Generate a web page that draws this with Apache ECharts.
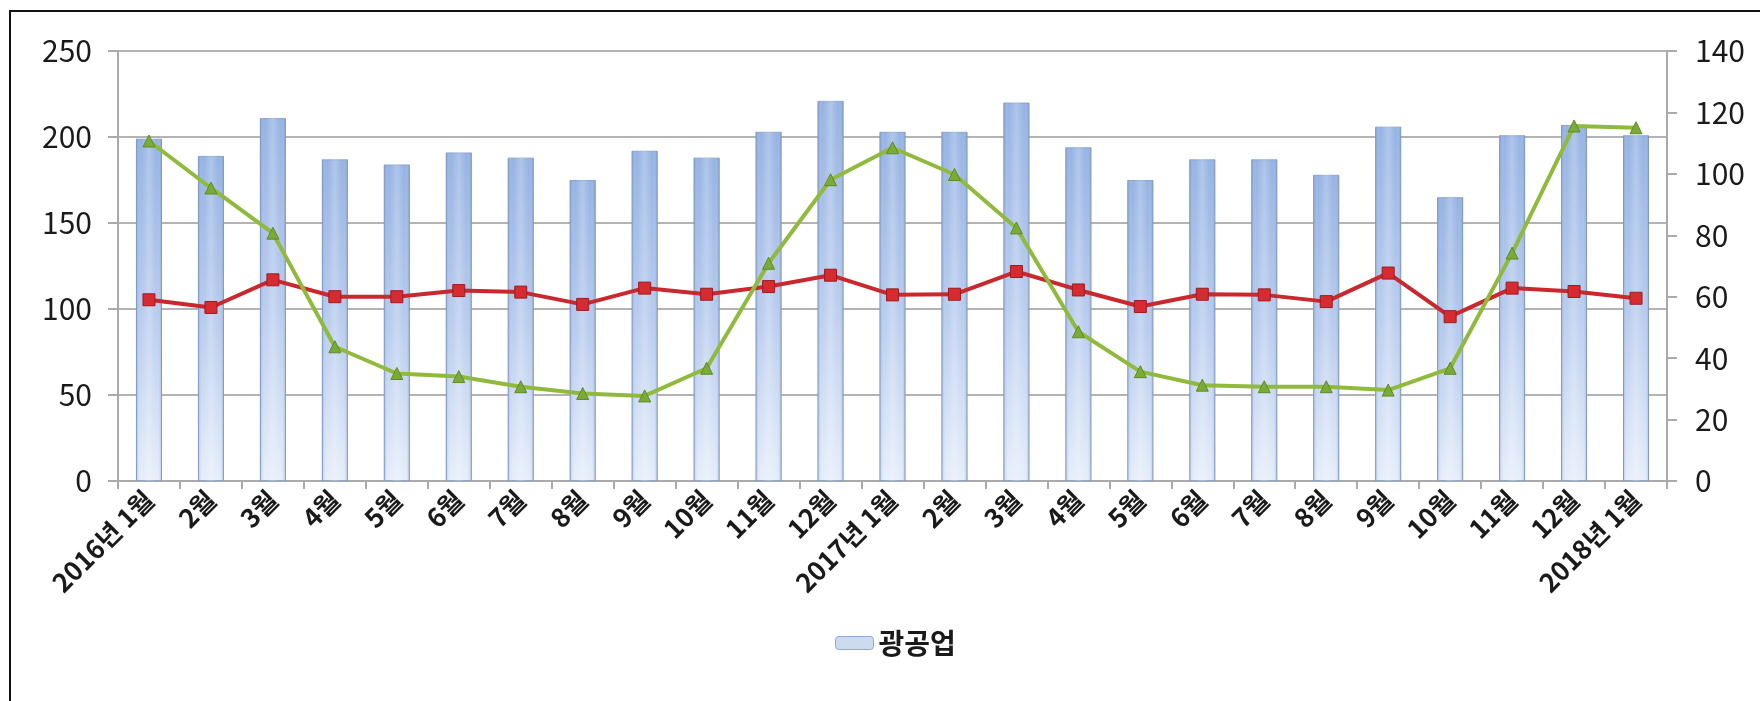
<!DOCTYPE html>
<html>
<head>
<meta charset="utf-8">
<script src="https://cdn.jsdelivr.net/npm/echarts@6/dist/echarts.min.js"></script>
<style>
html,body{margin:0;padding:0;background:#fff;}
#chart{width:1760px;height:701px;}
</style>
</head>
<body>
<div id="chart"></div>
<script>
const categories = ['2016년 1월','2월','3월','4월','5월','6월','7월','8월','9월','10월','11월','12월',
  '2017년 1월','2월','3월','4월','5월','6월','7월','8월','9월','10월','11월','12월','2018년 1월'];
const barValues = [199,189,211,187,184,191,188,175,192,188,203,221,203,203,220,194,175,187,187,178,206,165,201,207,201];
const redValues = [59,56.5,65.5,60,60,62,61.5,57.5,62.8,60.8,63.3,67,60.6,60.8,68.2,62.2,56.8,60.8,60.6,58.4,67.7,53.5,62.8,61.7,59.5];
const greenValues = [110.7,95.4,80.7,43.7,35,34,30.7,28.5,27.7,36.7,70.9,98.1,108.5,99.8,82.4,48.6,35.6,31.2,30.7,30.7,29.6,36.7,74.2,115.6,115];
const leftTicks = {min:0, max:250, interval:50};
const rightTicks = {min:0, max:140, interval:20};
const barName = '광공업';

const font = '"Noto Sans CJK KR", "Noto Sans", sans-serif';
const chart = echarts.init(document.getElementById('chart'), null, {renderer:'canvas'});
chart.setOption({
  animation:false,
  backgroundColor:'#fff',
  graphic:[{type:'rect', shape:{x:10, y:11, width:1800, height:800},
    style:{fill:'none', stroke:'#111', lineWidth:2}, z:100}],
  grid:{left:118, right:93, top:51, bottom:220},
  legend:{
    data:[barName], left:830, top:624,
    itemWidth:38, itemHeight:13, itemGap:6,
    textStyle:{fontFamily:font, fontSize:28, fontWeight:'bold', color:'#1a1a1a'},
    itemStyle:{color:'#cddbf1', borderColor:'#8ea9d2', borderWidth:1}
  },
  xAxis:{
    type:'category', data:categories, boundaryGap:true,
    axisLine:{lineStyle:{color:'#aaaaaa', width:2}},
    axisTick:{show:true, length:8, lineStyle:{color:'#aaaaaa', width:2}},
    axisLabel:{rotate:45, interval:0, margin:14, fontFamily:font, fontSize:26, fontWeight:'bold', color:'#1a1a1a'}
  },
  yAxis:[{
    type:'value', min:leftTicks.min, max:leftTicks.max, interval:leftTicks.interval, position:'left',
    axisLine:{show:true, lineStyle:{color:'#aaaaaa', width:2}},
    axisTick:{show:true, length:10, lineStyle:{color:'#aaaaaa', width:2}},
    splitLine:{show:true, lineStyle:{color:'#b3b3b3', width:2}},
    axisLabel:{margin:26, fontFamily:font, fontSize:30, color:'#1a1a1a'}
  },{
    type:'value', min:rightTicks.min, max:rightTicks.max, interval:rightTicks.interval, position:'right',
    axisLine:{show:true, lineStyle:{color:'#aaaaaa', width:2}},
    axisTick:{show:true, length:10, lineStyle:{color:'#aaaaaa', width:2}},
    splitLine:{show:false},
    axisLabel:{margin:28, fontFamily:font, fontSize:30, color:'#1a1a1a'}
  }],
  series:[{
    name:barName, type:'bar', data:barValues, yAxisIndex:0, barWidth:'42%', z:2,
    itemStyle:{
      color:new echarts.graphic.LinearGradient(0,0,0,1,[
        {offset:0, color:'#94b2e2'},{offset:0.5, color:'#b7cbee'},{offset:1, color:'#e6eefa'}]),
      borderColor:'#8aa3cc', borderWidth:1
    }
  },{
    name:'overlay', type:'bar', data:barValues, yAxisIndex:0, barWidth:'42%', barGap:'-100%', z:3,
    silent:true,
    itemStyle:{
      color:new echarts.graphic.LinearGradient(0,0,1,0,[
        {offset:0, color:'rgba(90,120,175,0.35)'},{offset:0.2, color:'rgba(255,255,255,0)'},
        {offset:0.5, color:'rgba(255,255,255,0.25)'},{offset:0.8, color:'rgba(255,255,255,0)'},
        {offset:1, color:'rgba(90,120,175,0.35)'}])
    }
  },{
    name:'red', type:'line', data:redValues, yAxisIndex:1, z:5,
    symbol:'rect', symbolSize:12,
    lineStyle:{color:'#c8282e', width:4},
    itemStyle:{color:'#d62b30', borderColor:'#9c1c1f', borderWidth:1}
  },{
    name:'green', type:'line', data:greenValues, yAxisIndex:1, z:6,
    symbol:'triangle', symbolSize:12,
    lineStyle:{color:'#8fba3c', width:4},
    itemStyle:{color:'#7aab36', borderColor:'#5f8a2a', borderWidth:1}
  }]
});
</script>
</body>
</html>
